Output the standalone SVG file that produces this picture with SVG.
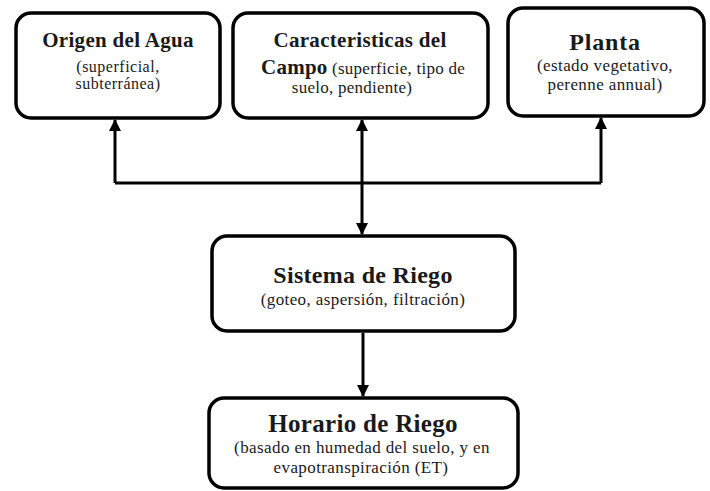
<svg xmlns="http://www.w3.org/2000/svg" width="710" height="491" viewBox="0 0 710 491">
<style>
.box{fill:#fff;stroke:#000;stroke-width:3.5}
.t{font-family:"Liberation Serif","Times New Roman",serif;text-anchor:middle;fill:#1a1a1a}
.tt{font-weight:bold;font-size:21px;letter-spacing:0.3px}
.big{font-weight:bold;font-size:25px;letter-spacing:0.3px}
.s{font-size:17px;letter-spacing:0.25px}
.s2{font-size:17px;letter-spacing:0.4px}
.s3{font-size:16px;letter-spacing:0.5px}
.c{fill:none;stroke:#000;stroke-width:3}
</style>
<defs>
<marker id="ah" markerUnits="userSpaceOnUse" markerWidth="12" markerHeight="14" viewBox="0 0 12 14" refX="11" refY="6" orient="auto-start-reverse">
<path d="M0,0 L12,6 L0,12 Z" fill="#000"/>
</marker>
</defs>
<g id="connectors">
<path class="c" d="M115,183 L601,183"/>
<path class="c" d="M115,183 L115,120" marker-end="url(#ah)"/>
<path class="c" d="M601,183 L601,118" marker-end="url(#ah)"/>
<path class="c" d="M362,120 L362,234" marker-start="url(#ah)" marker-end="url(#ah)"/>
<path class="c" d="M363,333 L363,396" marker-end="url(#ah)"/>
</g>
<g id="origen">
<rect class="box" x="16" y="13" width="204" height="105" rx="15"/>
<text class="t tt" x="118" y="47">Origen del Agua</text>
<text class="t s3" x="118" y="72">(superficial,</text>
<text class="t s3" x="118" y="89">subterránea)</text>
</g>
<g id="campo">
<rect class="box" x="233" y="13" width="255" height="105" rx="15"/>
<text class="t tt" x="360" y="47">Caracteristicas del</text>
<text class="t s" x="363" y="74"><tspan font-weight="bold" font-size="21px">Campo</tspan> (superficie, tipo de</text>
<text class="t s" x="352" y="93">suelo, pendiente)</text>
</g>
<g id="planta">
<rect class="box" x="508" y="8" width="196" height="108" rx="15"/>
<text class="t tt" x="605" y="50" style="font-size:24px;letter-spacing:0.8px">Planta</text>
<text class="t s2" x="605" y="71">(estado vegetativo,</text>
<text class="t s2" x="605" y="90">perenne annual)</text>
</g>
<g id="sistema">
<rect class="box" x="212" y="236" width="303" height="95" rx="15"/>
<text class="t big" x="363" y="283" style="font-size:24px">Sistema de Riego</text>
<text class="t s2" x="363" y="305">(goteo, aspersión, filtración)</text>
</g>
<g id="horario">
<rect class="box" x="209" y="398" width="309" height="90" rx="15"/>
<text class="t big" x="363" y="432">Horario de Riego</text>
<text class="t s2" x="362" y="453">(basado en humedad del suelo, y en</text>
<text class="t s2" x="361" y="473">evapotranspiración (ET)</text>
</g>
</svg>
